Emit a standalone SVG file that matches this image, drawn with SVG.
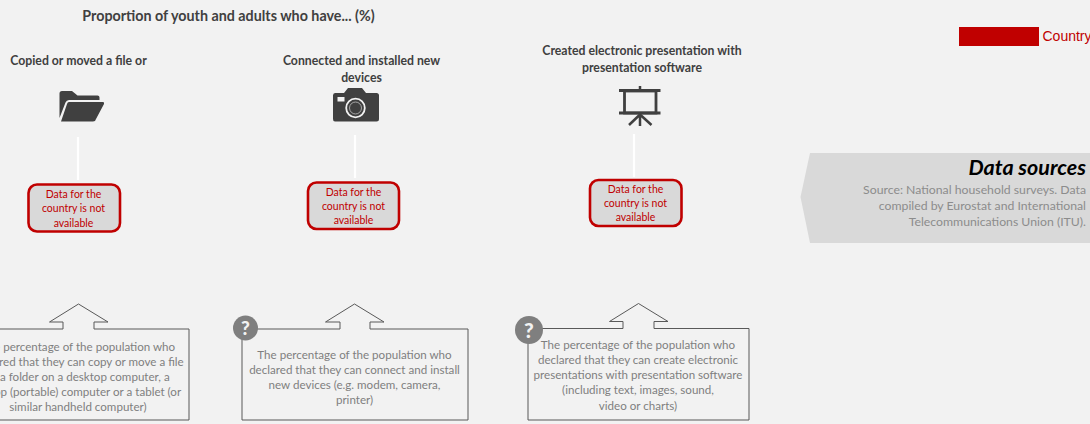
<svg xmlns="http://www.w3.org/2000/svg" width="1090" height="424" viewBox="0 0 1090 424">
<style>
text{font-family:"Lato","Open Sans","Liberation Sans",sans-serif}
.h{font-size:12.25px;font-weight:700;fill:#404040;text-anchor:middle}
.r{font-size:10.5px;fill:#c00000;text-anchor:middle}
.d{font-size:11.6px;fill:#7f7f7f;text-anchor:middle}
.s{font-size:12.25px;fill:#8c8c8c;text-anchor:end}
.rb{fill:#d9d9d9;stroke:#c00000;stroke-width:2.6}
.cb{fill:none;stroke:#595959;stroke-width:1}
.q{font-size:19px;font-weight:900;fill:#f2f2f2;text-anchor:middle}
.ic{fill:#404040}
</style>
<rect width="1090" height="424" fill="#f2f2f2"/>
<text x="228.500" y="20.500" class="h" style="font-size:14.3px">Proportion of youth and adults who have... (%)</text>

<g id="connectors" stroke="#fff" stroke-width="2.2">
<line x1="78" y1="137" x2="78" y2="180"/>
<line x1="355" y1="135" x2="355" y2="178"/>
<line x1="634" y1="134" x2="634" y2="177"/>
</g>

<g id="node-file">
<text x="78.500" y="65" class="h">Copied or moved a file or</text>
<path class="ic" d="M59.500 93.500Q59.500 91 62 91H72L77.500 95.500H97.500Q99.500 95.500 99.500 97.500V100H69Q66.500 100 65.500 102.500L59.500 118Z"/>
<path class="ic" d="M69 102H103Q104.500 102 104 104L96 119Q95.500 121.500 93 121.500H61L67 104Q67.500 102 69 102Z"/>
<rect class="rb" x="28.500" y="184.500" width="91.500" height="47" rx="8.500"/>
<text x="73.500" y="198" class="r">Data for the</text>
<text x="73.500" y="212" class="r">country is not</text>
<text x="73.500" y="226.500" class="r">available</text>
</g>

<g id="node-devices">
<text x="361.500" y="65" class="h">Connected and installed new</text>
<text x="361.500" y="82" class="h">devices</text>
<path class="ic" d="M335 93H344L348 88H362L366 93H376.500Q379 93 379 95.500V119Q379 121.500 376.500 121.500H335Q333 121.500 333 119V95.500Q333 93 335 93Z"/>
<rect x="337.500" y="97" width="7" height="4.500" fill="#f2f2f2"/>
<circle cx="355.500" cy="108" r="9.300" fill="none" stroke="#f2f2f2" stroke-width="1.800"/>
<circle cx="355.500" cy="108" r="6" fill="none" stroke="#a6a6a6" stroke-width="1"/>
<rect class="rb" x="308" y="182.500" width="91" height="46.500" rx="8.500"/>
<text x="353.500" y="196" class="r">Data for the</text>
<text x="353.500" y="210" class="r">country is not</text>
<text x="353.500" y="223.500" class="r">available</text>
</g>

<g id="node-presentation">
<text x="642" y="55" class="h">Created electronic presentation with</text>
<text x="642" y="72" class="h">presentation software</text>
<g stroke="#404040" fill="none">
<path stroke-width="3" d="M619 90.500H660.500M619 113H660.500"/>
<rect x="624.500" y="91" width="31.500" height="22" stroke-width="2.800"/>
<path stroke-width="2.500" d="M640 86V90M640 113V126M640 114.500L629 125M640 114.500L651.500 125"/>
</g>
<rect class="rb" x="590" y="180" width="91.500" height="46" rx="8.500"/>
<text x="635.500" y="193" class="r">Data for the</text>
<text x="635.500" y="207" class="r">country is not</text>
<text x="635.500" y="221" class="r">available</text>
</g>

<g id="callout-file">
<path class="cb" d="M63 329V322H49.500L78.500 304L108 322H94V329H189V420H-33V329Z"/>
<text x="78" y="351" class="d">The percentage of the population who</text>
<text x="78" y="366" class="d">declared that they can copy or move a file</text>
<text x="78" y="381" class="d">to a folder on a desktop computer, a</text>
<text x="78" y="396" class="d">laptop (portable) computer or a tablet (or</text>
<text x="78" y="411" class="d">similar handheld computer)</text>
</g>

<g id="callout-devices">
<path class="cb" d="M340 329V322H325.500L354.500 304L384 322H370V329H468V420H242V329Z"/>
<text x="354.500" y="359" class="d">The percentage of the population who</text>
<text x="354.500" y="373.500" class="d">declared that they can connect and install</text>
<text x="354.500" y="388.500" class="d">new devices (e.g. modem, camera,</text>
<text x="354.500" y="403.500" class="d">printer)</text>
<circle cx="245.500" cy="328" r="12.500" fill="#7f7f7f"/>
<text x="245.500" y="335" class="q">?</text>
</g>

<g id="callout-presentation">
<path class="cb" d="M623 328.500V321.500H609.500L638.500 303.500L668 321.500H654V328.500H749V420H528V328.500Z"/>
<text x="638" y="349" class="d">The percentage of the population who</text>
<text x="638" y="364" class="d">declared that they can create electronic</text>
<text x="638" y="379" class="d">presentations with presentation software</text>
<text x="638" y="394" class="d">(including text, images, sound,</text>
<text x="638" y="409.500" class="d">video or charts)</text>
<circle cx="529" cy="330" r="14" fill="#7f7f7f"/>
<text x="529" y="337.500" class="q" style="font-size:21px">?</text>
</g>

<g id="legend">
<rect x="959" y="27" width="80" height="19" fill="#c00000"/>
<text x="1042.500" y="41" style="font-family:'Liberation Sans',Arial,sans-serif;font-size:14px;fill:#c00000">Country</text>
</g>

<g id="data-sources">
<path d="M810 153H1090V243H810L800.500 197Z" fill="#d9d9d9"/>
<text x="1086" y="175" class="s" style="font-size:21.5px;font-weight:700;font-style:italic;fill:#000">Data sources</text>
<text x="1086" y="194" class="s">Source: National household surveys. Data</text>
<text x="1086" y="210" class="s">compiled by Eurostat and International</text>
<text x="1086" y="226" class="s">Telecommunications Union (ITU).</text>
</g>
</svg>
